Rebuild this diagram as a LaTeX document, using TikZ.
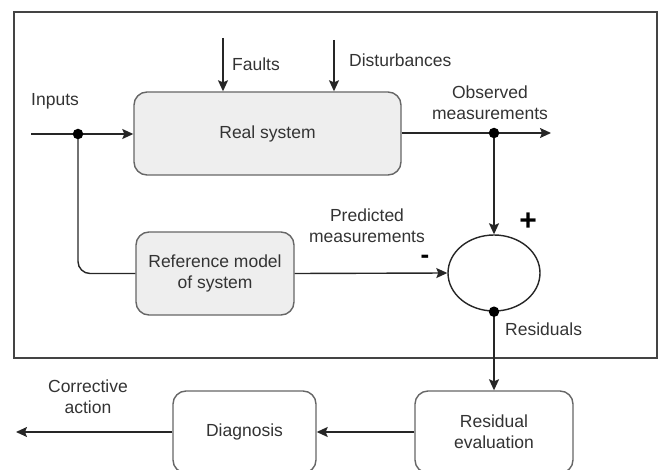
\documentclass[tikz,border=0pt]{standalone}
\usepackage{fontspec}
\setmainfont{Liberation Sans}
\usetikzlibrary{arrows.meta,shapes.geometric}
\definecolor{txt}{HTML}{333333}
\definecolor{boxfill}{HTML}{EEEEEE}
\definecolor{boxline}{HTML}{666666}
\definecolor{frameline}{HTML}{444444}
\begin{document}
\begin{tikzpicture}[x=1pt,y=-1pt,
  every node/.style={font=\fontsize{17.5}{21}\selectfont, text=txt, inner sep=0pt},
  greybox/.style={draw=boxline, line width=1.4pt, fill=boxfill, rounded corners=13pt},
  whitebox/.style={draw=boxline, line width=1.4pt, fill=white, rounded corners=13pt},
  conn/.style={draw=black!85, line width=1.4pt},
  arr/.style={conn, -{Stealth[length=11pt,width=10pt,inset=2pt]}},
  lbl/.style={align=center},
  dotnode/.style={circle, fill=black, minimum size=10.5pt, inner sep=0pt}
]
\useasboundingbox (0,0) rectangle (660,470);
% frame
\node[draw=frameline, line width=2.8pt, minimum width=643pt, minimum height=346pt] (frame) at (335.5,185) {};
% boxes
\node[greybox, minimum width=267pt, minimum height=83pt] (real) at (267.5,133.5) {Real system};
\node[greybox, minimum width=158pt, minimum height=83pt, align=center] (ref) at (215,273.5) {Reference model\\of system};
\node[ellipse, draw=black!85, line width=1.4pt, fill=white, minimum width=92pt, minimum height=76pt] (sum) at (494,273) {};
\node[whitebox, minimum width=158pt, minimum height=82pt, align=center] (reseval) at (494,432) {Residual\\evaluation};
\node[whitebox, minimum width=143pt, minimum height=82pt] (diag) at (244.5,432) {Diagnosis};
% coordinates
\coordinate (in) at (31,134);
\coordinate (j1) at (78,134);
\coordinate (f) at (223,38);
\coordinate (d) at (334,40);
\coordinate (out) at (551,133);
\coordinate (j2) at (494,133);
\coordinate (ca) at (16,432);
% connectors
\draw[arr] (in) -- (in -| real.west);
\draw[conn, rounded corners=12pt] (j1) |- (ref.west);
\draw[arr] (f) -- (f |- real.north);
\draw[arr] (d) -- (d |- real.north);
\draw[arr] (real.east |- out) -- (out);
\draw[arr] (j2) -- (sum.north);
\draw[arr] (ref.east) -- (sum.west);
\draw[arr] (sum.south) -- (reseval.north);
\draw[arr] (reseval.west) -- (diag.east);
\draw[arr] (diag.west) -- (ca);
% dots
\node[dotnode] (dj1) at (j1) {};
\node[dotnode] (dj2) at (j2) {};
\node[dotnode] (ds) at (sum.south) {};
% labels
\node[anchor=west] (lf) at (232,64) {Faults};
\node[anchor=west] (ld) at (349,60) {Disturbances};
\node[anchor=west] (li) at (31,101) {Inputs};
\node[lbl] (lo) at (490,103) {Observed\\measurements};
\node[lbl] (lp) at (367,226) {Predicted\\measurements};
\node[anchor=west] (lr) at (505,329) {Residuals};
\node[lbl] (lc) at (88,397) {Corrective\\action};
\node[font=\fontsize{30}{30}\selectfont\bfseries, text=black] (plus) at (528,222) {+};
\node[font=\fontsize{26}{26}\selectfont\bfseries, text=black] (minus) at (425,259) {-};
\end{tikzpicture}
\end{document}
